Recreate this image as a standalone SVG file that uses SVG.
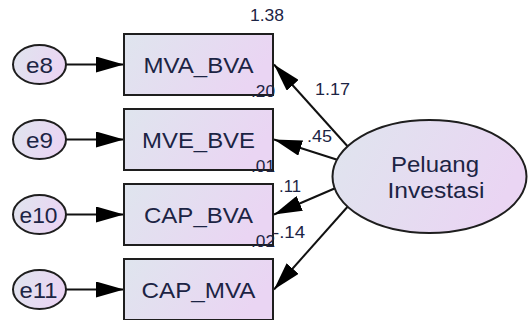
<svg xmlns="http://www.w3.org/2000/svg" width="529" height="320" viewBox="0 0 529 320">
<defs>
<linearGradient id="fill" x1="0" y1="0" x2="1" y2="0.3">
<stop offset="0" stop-color="#dfe5ee"/>
<stop offset="1" stop-color="#ead5f3"/>
</linearGradient>
<marker id="arr" markerUnits="userSpaceOnUse" markerWidth="28" markerHeight="16" viewBox="0 0 28 16" refX="28" refY="8" orient="auto">
<path d="M0,0 L28,8 L0,16 z" fill="#000"/>
</marker>
<style>
.shape{fill:url(#fill);stroke:#1e1e1e;stroke-width:2}
.conn{stroke:#111;stroke-width:2;fill:none;marker-end:url(#arr)}
.lbl{font-family:"Liberation Sans",Arial,sans-serif;font-size:22px;fill:#1c2444;text-anchor:middle}
.num{font-family:"Liberation Sans",Arial,sans-serif;font-size:16px;fill:#1c2444}
</style>
</defs>
<rect width="529" height="320" fill="#fff"/>
<g id="connectors">
<line class="conn" x1="66" y1="64.5" x2="124" y2="64.5"/>
<line class="conn" x1="66" y1="139.5" x2="124" y2="139.5"/>
<line class="conn" x1="66" y1="214.5" x2="124" y2="214.5"/>
<line class="conn" x1="66" y1="289.5" x2="124" y2="289.5"/>
<line class="conn" x1="350" y1="149" x2="274" y2="64.5"/>
<line class="conn" x1="338" y1="160" x2="274" y2="139.5"/>
<line class="conn" x1="338" y1="187" x2="274" y2="214.5"/>
<line class="conn" x1="350" y1="204" x2="274" y2="289.5"/>
</g>
<g id="e8"><ellipse class="shape" cx="39.5" cy="64.5" rx="26.5" ry="19.5"/><text class="lbl" x="39.5" y="72.5" textLength="27" lengthAdjust="spacingAndGlyphs">e8</text></g>
<g id="e9"><ellipse class="shape" cx="39.5" cy="139.5" rx="26.5" ry="19.5"/><text class="lbl" x="39.5" y="147.5" textLength="27" lengthAdjust="spacingAndGlyphs">e9</text></g>
<g id="e10"><ellipse class="shape" cx="39.5" cy="214.5" rx="26.5" ry="19.5"/><text class="lbl" x="38.5" y="222.5" textLength="38" lengthAdjust="spacingAndGlyphs">e10</text></g>
<g id="e11"><ellipse class="shape" cx="39.5" cy="289.5" rx="26.5" ry="19.5"/><text class="lbl" x="38.5" y="297.5" textLength="38" lengthAdjust="spacingAndGlyphs">e11</text></g>
<g id="MVA_BVA"><rect class="shape" x="124" y="34" width="149" height="61"/><text class="lbl" x="198.5" y="72.5" textLength="110" lengthAdjust="spacingAndGlyphs">MVA_BVA</text></g>
<g id="MVE_BVE"><rect class="shape" x="124" y="109" width="149" height="61"/><text class="lbl" x="198.5" y="147.5" textLength="113" lengthAdjust="spacingAndGlyphs">MVE_BVE</text></g>
<g id="CAP_BVA"><rect class="shape" x="124" y="184" width="149" height="61"/><text class="lbl" x="198.5" y="222.5" textLength="109" lengthAdjust="spacingAndGlyphs">CAP_BVA</text></g>
<g id="CAP_MVA"><rect class="shape" x="124" y="259" width="149" height="61"/><text class="lbl" x="198.5" y="297.5" textLength="114" lengthAdjust="spacingAndGlyphs">CAP_MVA</text></g>
<g id="Peluang_Investasi"><ellipse class="shape" cx="429.5" cy="176.5" rx="97" ry="56.5"/>
<text class="lbl" x="435" y="172" textLength="88" lengthAdjust="spacingAndGlyphs">Peluang</text>
<text class="lbl" x="436" y="198" textLength="97" lengthAdjust="spacingAndGlyphs">Investasi</text></g>
<g id="estimates">
<text class="num" x="250" y="21" textLength="34" lengthAdjust="spacingAndGlyphs">1.38</text>
<text class="num" x="251" y="97" textLength="24" lengthAdjust="spacingAndGlyphs">.20</text>
<text class="num" x="251" y="172" textLength="24" lengthAdjust="spacingAndGlyphs">.01</text>
<text class="num" x="251" y="247" textLength="24" lengthAdjust="spacingAndGlyphs">.02</text>
<text class="num" x="315" y="95" textLength="35" lengthAdjust="spacingAndGlyphs">1.17</text>
<text class="num" x="307" y="142" textLength="25" lengthAdjust="spacingAndGlyphs">.45</text>
<text class="num" x="279" y="192" textLength="22" lengthAdjust="spacingAndGlyphs">.11</text>
<text class="num" x="273" y="238" textLength="32" lengthAdjust="spacingAndGlyphs">-.14</text>
</g>
</svg>
